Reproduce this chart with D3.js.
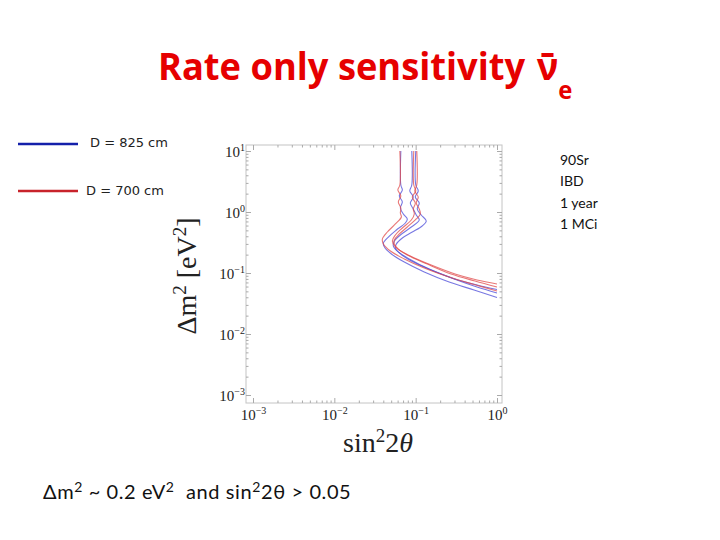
<!DOCTYPE html>
<html>
<head>
<meta charset="utf-8">
<script src="https://cdn.jsdelivr.net/npm/d3@7"></script>
<style>
  body { margin: 0; background: #fff; }
  svg { display: block; }
</style>
</head>
<body>
<div id="chart"></div>
<script>
//-----------------------------DATA------------------------------//
// sensitivity contours, [sin^2 2theta, dm^2 (eV^2)]
const d825_a = [[0.0657,10],[0.0657,2.77],[0.0686,2.30],[0.0630,1.83],[0.0686,1.46],[0.0648,1.16],[0.0705,0.927],[0.0789,0.768],[0.0746,0.660],[0.0579,0.507],[0.0462,0.389],[0.0401,0.310],[0.0413,0.267],[0.0503,0.205],[0.0725,0.151],[0.1275,0.104],[0.258,0.0712],[0.522,0.0526],[1.0,0.0397]];
const d700_a = [[0.0639,10],[0.0639,2.77],[0.0604,2.30],[0.0657,1.83],[0.0612,1.46],[0.0657,1.16],[0.0648,0.963],[0.0667,0.828],[0.0563,0.636],[0.0449,0.470],[0.0390,0.361],[0.0401,0.299],[0.0489,0.229],[0.0725,0.170],[0.1275,0.121],[0.258,0.0860],[0.522,0.0648],[1.0,0.0507]];
const d825_b = [[0.0896,10],[0.0896,2.77],[0.0847,2.21],[0.0935,1.76],[0.0859,1.40],[0.0935,1.12],[0.1017,0.893],[0.1107,0.739],[0.0884,0.568],[0.0648,0.420],[0.0547,0.335],[0.0532,0.277],[0.0595,0.229],[0.0835,0.170],[0.1468,0.116],[0.297,0.0797],[0.568,0.0590],[1.0,0.0470]];
const d700_b = [[0.0948,10],[0.0948,2.77],[0.1003,2.21],[0.0909,1.76],[0.0989,1.40],[0.0935,1.12],[0.0962,0.927],[0.0884,0.739],[0.0686,0.547],[0.0563,0.420],[0.0517,0.335],[0.0563,0.267],[0.0789,0.197],[0.1388,0.140],[0.273,0.0963],[0.536,0.0739],[1.0,0.0590]];
const d825_c = [[0.1003,10],[0.1003,2.77],[0.1076,2.21],[0.0989,1.76],[0.1107,1.40],[0.1046,1.12],[0.1171,0.893],[0.1349,0.712],[0.1204,0.590],[0.0909,0.470],[0.0686,0.375],[0.0579,0.299],[0.0563,0.257],[0.0630,0.213],[0.0884,0.157],[0.1553,0.112],[0.305,0.0797],[0.568,0.0636],[1.0,0.0536]];
const d700_c = [[0.1032,10],[0.1032,2.77],[0.0975,2.21],[0.1076,1.76],[0.1017,1.40],[0.1107,1.12],[0.1139,0.927],[0.1017,0.768],[0.0789,0.568],[0.0630,0.436],[0.0547,0.348],[0.0547,0.299],[0.0612,0.247],[0.0859,0.190],[0.1553,0.135],[0.305,0.0963],[0.568,0.0768],[1.0,0.0660]];

const curves825 = [d825_a, d825_b, d825_c];
const curves700 = [d700_a, d700_b, d700_c];

const xTicks = [0.001, 0.01, 0.1, 1];
const xTickExp = ["\u22123", "\u22122", "\u22121", "0"];
const yTicks = [0.001, 0.01, 0.1, 1, 10];
const yTickExp = ["\u22123", "\u22122", "\u22121", "0", "1"];

const legendLabels = ["D = 825 cm", "D = 700 cm"];
const legendColors = ["#1420aa", "#c8232b"];
const noteLines = ["90Sr", "IBD", "1 year", "1 MCi"];

//-----------------------------SVG-------------------------------//
const width = 720;
const height = 540;
const frame = {left: 246, right: 502, top: 145, bottom: 403};

const svg = d3.select("#chart").append("svg")
    .attr("width", width)
    .attr("height", height);

//----------------------------SCALES-----------------------------//
const xScale = d3.scaleLog().domain([1e-3, 1]).range([253, 497]);
const yScale = d3.scaleLog().domain([1e-3, 10]).range([395, 151]);

function minorTicks(lo, hi) {
    const out = [];
    for (let e = lo; e < hi; e++) {
        for (let m = 2; m <= 9; m++) out.push(m * Math.pow(10, e));
    }
    return out;
}
const xMinor = minorTicks(-3, 0);
const yMinor = minorTicks(-3, 1);

//-----------------------------TITLE-----------------------------//
// one text element, squeezed a little to get the narrow slide font
const title = svg.append("text")
    .attr("transform", "translate(158,80) scale(0.955,1)")
    .attr("font-family", "Open Sans, sans-serif")
    .attr("font-weight", "bold")
    .attr("font-size", 38)
    .attr("fill", "#e60000");
title.append("tspan").text("Rate only sensitivity");
title.append("tspan").attr("dx", 12).text("\u03BD\u0304");
title.append("tspan").attr("dy", 19).attr("font-size", 25).text("e");

//----------------------------LEGEND-----------------------------//
const legend = svg.append("g");
legend.selectAll("line").data(legendLabels).join("line")
    .attr("x1", 18).attr("x2", 78)
    .attr("y1", (d, i) => 144 + i * 47)
    .attr("y2", (d, i) => 144 + i * 47)
    .attr("stroke", (d, i) => legendColors[i])
    .attr("stroke-width", 2.5);
legend.selectAll("text").data(legendLabels).join("text")
    .attr("x", (d, i) => 90 - i * 4)
    .attr("y", (d, i) => 147 + i * 48)
    .attr("font-family", "DejaVu Sans, sans-serif")
    .attr("font-size", 13)
    .attr("fill", "#222")
    .text(d => d);

//-----------------------------NOTES-----------------------------//
svg.append("g").selectAll("text").data(noteLines).join("text")
    .attr("x", 560)
    .attr("y", (d, i) => 165 + i * 21.4)
    .attr("font-family", "Lato, sans-serif")
    .attr("font-size", 14)
    .attr("fill", "#111")
    .text(d => d);

//-----------------------------AXES------------------------------//
const plot = svg.append("g");

plot.append("rect")
    .attr("x", frame.left).attr("y", frame.top)
    .attr("width", frame.right - frame.left)
    .attr("height", frame.bottom - frame.top)
    .attr("fill", "none")
    .attr("stroke", "#c4c4c4")
    .attr("stroke-width", 1);

function frameAxis(axis, transform, ticks, size) {
    const g = plot.append("g")
        .attr("transform", transform)
        .call(axis.tickValues(ticks).tickSize(size).tickFormat(""));
    g.select(".domain").remove();
    g.selectAll(".tick line").attr("stroke", "#aaa");
    return g;
}

// major + minor ticks on all four sides, pointing inward
const xb = frameAxis(d3.axisBottom(xScale), "translate(0," + frame.bottom + ")", xTicks, -5);
frameAxis(d3.axisBottom(xScale), "translate(0," + frame.bottom + ")", xMinor, -2.5);
frameAxis(d3.axisTop(xScale), "translate(0," + frame.top + ")", xTicks, -5);
frameAxis(d3.axisTop(xScale), "translate(0," + frame.top + ")", xMinor, -2.5);
const yl = frameAxis(d3.axisLeft(yScale), "translate(" + frame.left + ",0)", yTicks, -5);
frameAxis(d3.axisLeft(yScale), "translate(" + frame.left + ",0)", yMinor, -2.5);
frameAxis(d3.axisRight(yScale), "translate(" + frame.right + ",0)", yTicks, -5);
frameAxis(d3.axisRight(yScale), "translate(" + frame.right + ",0)", yMinor, -2.5);

function powerLabel(sel, exps) {
    sel.each(function(d, i) {
        const t = d3.select(this).text(null);
        t.append("tspan").text("10");
        t.append("tspan").attr("dy", -6).attr("font-size", 10).text(exps[i]);
    });
}

xb.selectAll(".tick text")
    .attr("y", 17).attr("dy", null)
    .attr("font-family", "Liberation Serif, serif")
    .attr("font-size", 15)
    .attr("fill", "#222")
    .call(powerLabel, xTickExp);

yl.selectAll(".tick text")
    .attr("x", -1).attr("dy", "0.35em")
    .attr("text-anchor", "end")
    .attr("font-family", "Liberation Serif, serif")
    .attr("font-size", 15)
    .attr("fill", "#222")
    .call(powerLabel, yTickExp);

// axis titles
const yTitle = plot.append("text")
    .attr("transform", "translate(196,276) rotate(-90)")
    .attr("text-anchor", "middle")
    .attr("font-family", "Liberation Serif, serif")
    .attr("font-size", 28)
    .attr("fill", "#222");
yTitle.append("tspan").text("\u0394m");
yTitle.append("tspan").attr("dy", -10).attr("font-size", 19).text("2");
yTitle.append("tspan").attr("dy", 10).text(" [eV");
yTitle.append("tspan").attr("dy", -10).attr("font-size", 19).text("2");
yTitle.append("tspan").attr("dy", 10).text("]");

const xTitle = plot.append("text")
    .attr("x", 378).attr("y", 452)
    .attr("text-anchor", "middle")
    .attr("font-family", "Liberation Serif, serif")
    .attr("font-size", 28)
    .attr("fill", "#222");
xTitle.append("tspan").text("sin");
xTitle.append("tspan").attr("dy", -10).attr("font-size", 19).text("2");
xTitle.append("tspan").attr("dy", 10).text("2");
xTitle.append("tspan").attr("font-style", "italic").text("\u03B8");

//----------------------------LINES------------------------------//
const line = d3.line()
    .x(d => xScale(d[0]))
    .y(d => yScale(d[1]))
    .curve(d3.curveCatmullRom.alpha(0.5));

plot.append("g").selectAll("path").data(curves825).join("path")
    .attr("d", line)
    .attr("fill", "none")
    .attr("stroke", "#4a4ad8")
    .attr("stroke-opacity", 0.75)
    .attr("stroke-width", 1.1);

plot.append("g").selectAll("path").data(curves700).join("path")
    .attr("d", line)
    .attr("fill", "none")
    .attr("stroke", "#e04a4a")
    .attr("stroke-opacity", 0.75)
    .attr("stroke-width", 1.1);

//----------------------------FOOTER-----------------------------//
const foot = svg.append("text")
    .attr("x", 43).attr("y", 499)
    .attr("font-family", "Lato, sans-serif")
    .attr("font-size", 20)
    .attr("letter-spacing", 0.6)
    .attr("fill", "#111")
    .style("white-space", "pre");
foot.append("tspan").text("\u0394m");
foot.append("tspan").attr("dy", -7).attr("font-size", 14).text("2");
foot.append("tspan").attr("dy", 7).text(" ~ 0.2 eV");
foot.append("tspan").attr("dy", -7).attr("font-size", 14).text("2");
foot.append("tspan").attr("dy", 7).text("  and sin");
foot.append("tspan").attr("dy", -7).attr("font-size", 14).text("2");
foot.append("tspan").attr("dy", 7).text("2\u03B8 > 0.05");
</script>
</body>
</html>
